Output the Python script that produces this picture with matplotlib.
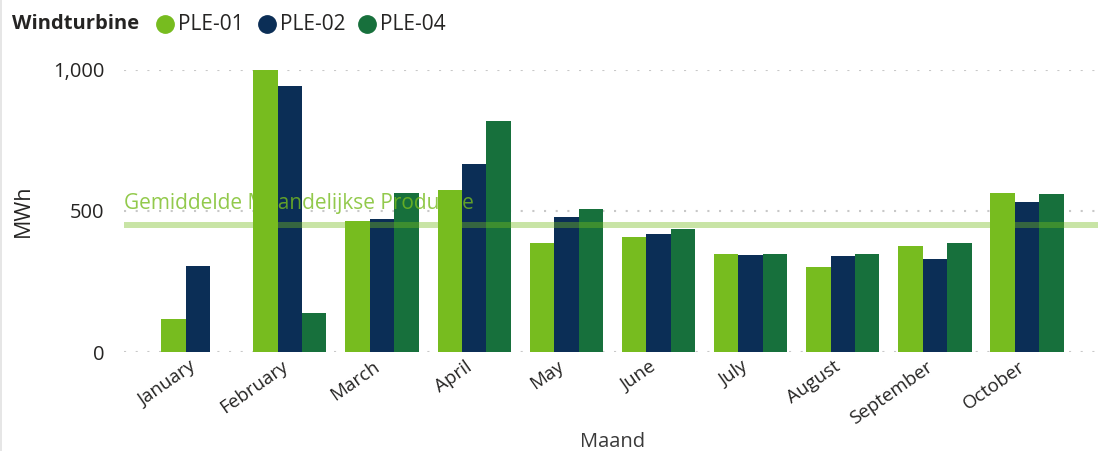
import numpy as np
import matplotlib
matplotlib.use('Agg')
import matplotlib.pyplot as plt
from matplotlib.lines import Line2D
from matplotlib.patches import Rectangle
from matplotlib.transforms import ScaledTranslation

# Data (MWh per month)
months = ['January', 'February', 'March', 'April', 'May', 'June',
          'July', 'August', 'September', 'October']
ple01 = [117, 1000, 465, 574, 387, 408, 348, 301, 376, 564]
ple02 = [305, 943, 472, 667, 479, 418, 344, 340, 330, 532]
ple04 = [0, 138, 564, 819, 507, 436, 348, 348, 387, 560]
series_names = ['PLE-01', 'PLE-02', 'PLE-04']
avg_production = 450
y_ticks = [0, 500, 1000]
y_tick_labels = ['0', '500', '1,000']

COLORS = ['#77BC1F', '#0B2E56', '#17703C']
TEXT = '#252423'
FONT = 'Open Sans'

plt.rcParams['font.family'] = [FONT, 'DejaVu Sans']

W, H = 1098, 451
fig = plt.figure(figsize=(W / 100, H / 100), dpi=100)
fig.patch.set_facecolor('white')

# plot area in pixel terms
left, right, top, bottom = 124, 1098, 70, 352
ax = fig.add_axes([left / W, 1 - bottom / H, (right - left) / W, (bottom - top) / H])
ax.set_facecolor('white')

x = np.arange(len(months))
bw = 0.265
for i, (vals, c) in enumerate(zip([ple01, ple02, ple04], COLORS)):
    ax.bar(x + (i - 1) * bw, vals, width=bw, color=c, zorder=2, clip_on=False)

# gridlines
for yv in y_ticks:
    ax.axhline(yv, color='#C8C8C8', lw=1.5, linestyle=(0, (1, 4.6)), zorder=1)

# average line
ax.axhline(avg_production, color=COLORS[0], alpha=0.4, lw=4.3, zorder=3)
ax.text(0, 508, 'Gemiddelde Maandelijkse Productie', transform=ax.get_yaxis_transform(),
        color=COLORS[0], alpha=0.8, fontsize=15, ha='left', va='baseline', zorder=4)

ax.set_xlim(-0.8, 9.77)
ax.set_ylim(0, 1000)
ax.set_yticks(y_ticks)
ax.set_yticklabels(y_tick_labels, fontsize=14.5, color=TEXT)
ax.set_xticks(x)
ax.set_xticklabels(months, rotation=35, ha='right', rotation_mode='anchor',
                   fontsize=13.5, color=TEXT)
ax.tick_params(axis='y', length=0, pad=14)
ax.tick_params(axis='x', length=0, pad=4)
shift = ScaledTranslation(-9 / 100, 0, fig.dpi_scale_trans)
for lbl in ax.get_xticklabels():
    lbl.set_transform(lbl.get_transform() + shift)
for s in ax.spines.values():
    s.set_visible(False)

fig.text(23 / W, 1 - 211 / H, 'MWh', rotation=90, ha='center', va='center',
         fontsize=15.5, color=TEXT)
fig.text(613 / W, 1 - 442 / H, 'Maand', ha='center', va='center',
         fontsize=14.5, color='#3A3A3A')

# legend
ly = 1 - 24 / H
fig.text(12 / W, ly, 'Windturbine', ha='left', va='center', fontsize=14.5,
         fontweight='bold', color=TEXT)
marker_x = [165, 266.5, 366.5]
for mx, name, c in zip(marker_x, series_names, COLORS):
    fig.add_artist(Line2D([mx / W], [ly], marker='o', markersize=12.5, color=c,
                          linestyle='none', transform=fig.transFigure))
    fig.text((mx + 13) / W, ly, name, ha='left', va='center', fontsize=15, color=TEXT)

# thin gray border on the left edge
fig.add_artist(Rectangle((0, 0), 2 / W, 1, transform=fig.transFigure,
                         color='#E6E6E6', lw=0))

fig.savefig('out.png', dpi=100, facecolor='white')
